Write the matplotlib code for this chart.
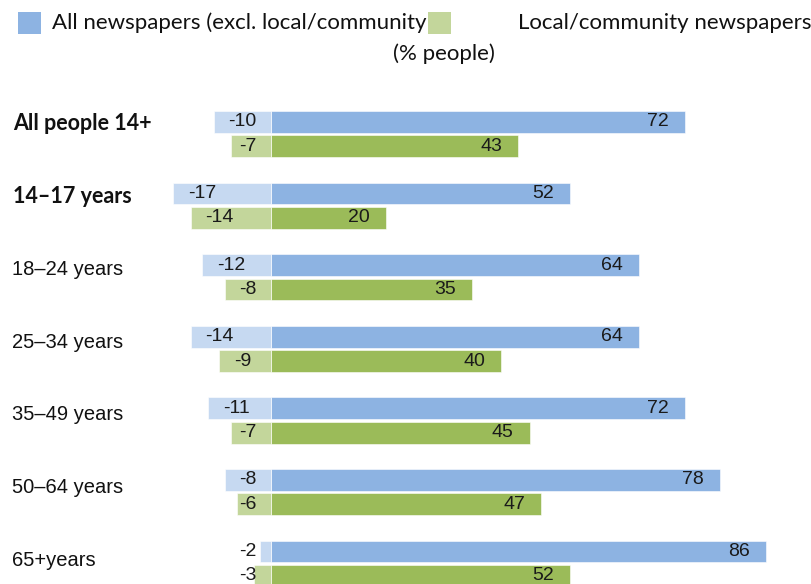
import matplotlib
matplotlib.use("Agg")
import matplotlib.pyplot as plt
from matplotlib.patches import Rectangle

categories = ["All people 14+", "14\u201317 years", "18\u201324 years", "25\u201334 years",
              "35\u201349 years", "50\u201364 years", "65+years"]
bold_cats = [True, True, False, False, False, False, False]
all_pos = [72, 52, 64, 64, 72, 78, 86]
all_neg = [-10, -17, -12, -14, -11, -8, -2]
local_pos = [43, 20, 35, 40, 45, 47, 52]
local_neg = [-7, -14, -8, -9, -7, -6, -3]
legend_labels = ["All newspapers (excl. local/community", "Local/community newspapers"]
subtitle = "(% people)"

BLUE, BLUE_L = "#8DB3E2", "#C6D9F1"
GREEN, GREEN_L = "#9BBB59", "#C3D69B"

W, H = 812, 584
fig = plt.figure(figsize=(W / 100, H / 100), dpi=100)
ax = fig.add_axes([0, 0, 1, 1])
ax.set_axis_off()

zero_px, px_per_unit = 271.0, 5.75
row_px, first_px = 71.6, 121.9
ax.set_xlim(-zero_px / px_per_unit, (W - zero_px) / px_per_unit)
ax.set_ylim((H - first_px) / row_px, -first_px / row_px)

bar_h = 21.7 / row_px
green_off = 24.4 / row_px

val_font = ["Liberation Sans", "DejaVu Sans"]
lab_font = ["Liberation Sans", "DejaVu Sans"]
head_font = ["Lato", "DejaVu Sans"]

n = len(categories)
yb = list(range(n))
yg = [i + green_off for i in yb]

ax.barh(yb, all_pos, height=bar_h, color=BLUE, edgecolor="white", linewidth=0.4)
ax.barh(yb, all_neg, height=bar_h, color=BLUE_L, edgecolor="white", linewidth=0.4)
ax.barh(yg, local_pos, height=bar_h, color=GREEN, edgecolor="white", linewidth=0.4)
ax.barh(yg, local_neg, height=bar_h, color=GREEN_L, edgecolor="white", linewidth=0.4)

val_size = 14
pad = 16 / px_per_unit
renderer = fig.canvas.get_renderer()
for ys, pos, neg in ((yb, all_pos, all_neg), (yg, local_pos, local_neg)):
    for y, p, q in zip(ys, pos, neg):
        ax.text(p - pad, y, str(p), ha="right", va="center", fontsize=val_size,
                family=val_font, color="#1a1a1a")
        t = ax.text(q + 15 / px_per_unit, y, str(q), ha="left", va="center",
                    fontsize=val_size, family=val_font, color="#1a1a1a")
        bb = t.get_window_extent(renderer)
        if bb.x1 > zero_px - 15:
            t.set_ha("right")
            t.set_x(-15 / px_per_unit)

# category labels
for i, (c, b) in enumerate(zip(categories, bold_cats)):
    ypx = 124 + 72.7 * i
    if b:
        fig.text(13 / W, 1 - ypx / H, c, ha="left", va="center", fontsize=15.5,
                 family=head_font, fontweight="bold", color="#111111")
    else:
        fig.text(12 / W, 1 - ypx / H, c, ha="left", va="center", fontsize=14.5,
                 family=lab_font, color="#111111")

# legend
fig.patches.append(Rectangle((18 / W, 1 - 34 / H), 23 / W, 22 / H, transform=fig.transFigure,
                             facecolor=BLUE, edgecolor="none"))
fig.patches.append(Rectangle((428 / W, 1 - 34 / H), 23 / W, 22 / H, transform=fig.transFigure,
                             facecolor=GREEN_L, edgecolor="none"))
fig.text(52 / W, 1 - 23 / H, legend_labels[0], ha="left", va="center", fontsize=16,
         family=head_font, color="#111111")
fig.text(518 / W, 1 - 23 / H, legend_labels[1], ha="left", va="center", fontsize=16,
         family=head_font, color="#111111")
fig.text(444 / W, 1 - 54 / H, subtitle, ha="center", va="center", fontsize=16,
         family=head_font, color="#111111")

fig.savefig("out.png", dpi=100)
